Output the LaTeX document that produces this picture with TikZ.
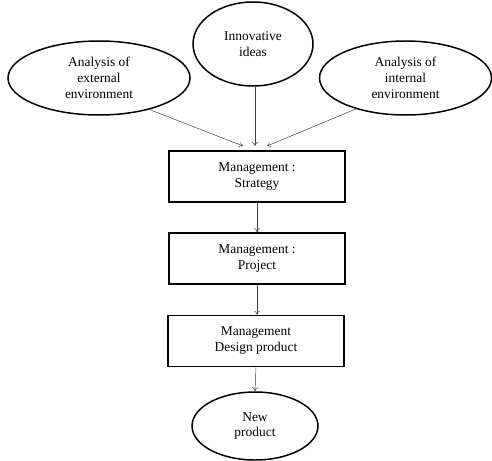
\documentclass[tikz,border=0pt]{standalone}
\usepackage{fontspec}
\setmainfont{Liberation Serif}
\usetikzlibrary{shapes.geometric,arrows.meta}
\begin{document}
\begin{tikzpicture}[x=1bp,y=-1bp,
  txt/.style={font=\fontsize{13.5}{16}\selectfont, align=center, inner sep=0pt},
  oval/.style={txt, ellipse, draw, line width=1.5pt, minimum width=#1},
  stage/.style={txt, draw, line width=1.6pt, minimum width=176bp, minimum height=51bp},
  flow/.style={draw=black!75, line width=0.5pt, -{To[length=4pt,width=6pt]}}]
\useasboundingbox (0,0) rectangle (492,461);
% source ellipses
\node[oval=182bp, minimum height=74bp] (ext) at (99,78) {Analysis of\\external\\environment};
\node[oval=120bp, minimum height=84bp] (idea) at (253,44) {Innovative\\ideas};
\node[oval=172bp, minimum height=74bp] (int) at (405.5,78) {Analysis of\\internal\\environment};
% management stages
\node[stage] (strat) at (257,176.5) {Management :\\Strategy};
\node[stage] (proj) at (257,258.5) {Management :\\Project};
\node[stage] (design) at (256,341) {Management\\Design product};
% result
\node[oval=126bp, minimum height=68bp] (new) at (255,426) {New\\product};
% connectors
\coordinate (inL) at (243,146);
\coordinate (inC) at (255,146);
\coordinate (inR) at (267,146);
\draw[flow] (ext.-32) -- (inL);
\draw[flow] (idea.south) ++(2,0) -- (inC);
\draw[flow] (int.-148) -- (inR);
\draw[flow] (strat.south) -- (proj.north);
\draw[flow] (proj.south) -- (design.north -| proj.south);
\draw[flow] (design.south) -- (new.north);
\end{tikzpicture}
\end{document}
